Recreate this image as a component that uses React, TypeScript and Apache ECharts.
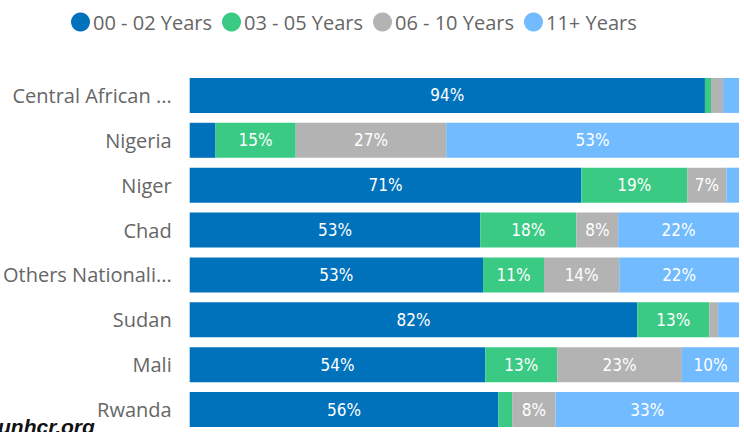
import React, { useEffect, useRef } from "react";
import * as echarts from "echarts";

const categories = [
  "Central African ...",
  "Nigeria",
  "Niger",
  "Chad",
  "Others Nationali...",
  "Sudan",
  "Mali",
  "Rwanda",
];
const seriesNames = ["00 - 02 Years", "03 - 05 Years", "06 - 10 Years", "11+ Years"];
const years0to2 = [93.8, 4.7, 71.3, 52.9, 53.4, 81.5, 53.8, 56.2];
const years3to5 = [1.1, 14.6, 19.3, 17.5, 11.1, 13.1, 13.1, 2.5];
const years6to10 = [2.2, 27.4, 7.1, 7.6, 13.7, 1.6, 22.7, 7.9];
const years11plus = [2.9, 53.3, 2.3, 22.0, 21.8, 3.8, 10.4, 33.4];
const colors = ["#0072BC", "#3ACA84", "#B3B3B3", "#72BBFF"];

export default function App() {
  const ref = useRef<HTMLDivElement>(null);
  useEffect(() => {
    document.body.style.margin = "0";
    const chart = echarts.init(ref.current!, null, { renderer: "svg" });
    const data = [years0to2, years3to5, years6to10, years11plus];
    chart.setOption({
      animation: false,
      color: colors,
      legend: {
        top: 7,
        left: 66,
        icon: "circle",
        itemWidth: 19,
        itemHeight: 19,
        itemGap: 10,
        textStyle: { color: "#666", fontSize: 20, fontFamily: "Open Sans", padding: [0, 0, 0, -2] },
        data: seriesNames,
      },
      grid: { left: 189, right: 5, top: 73, bottom: -4, containLabel: false },
      xAxis: { type: "value", min: 0, max: 100, show: false },
      yAxis: {
        type: "category",
        inverse: true,
        data: categories,
        axisLine: { show: false },
        axisTick: { show: false },
        axisLabel: { color: "#666", fontSize: 20, fontFamily: "Open Sans", margin: 18 },
      },
      series: seriesNames.map((name, i) => ({
        name,
        type: "bar",
        stack: "total",
        barCategoryGap: "22%",
        data: data[i],
        label: {
          show: true,
          color: "#fff",
          fontSize: 17,
          fontFamily: "DejaVu Sans Condensed",
          formatter: (p: any) => (p.value >= 6 ? Math.round(p.value) + "%" : ""),
        },
      })),
      graphic: [
        {
          type: "text",
          left: -2,
          top: 416,
          style: { text: "unhcr.org", font: "italic bold 21px Liberation Sans", fill: "#111" },
        },
      ],
    });
    return () => chart.dispose();
  }, []);
  return <div ref={ref} style={{ width: 744, height: 432 }} />;
}
